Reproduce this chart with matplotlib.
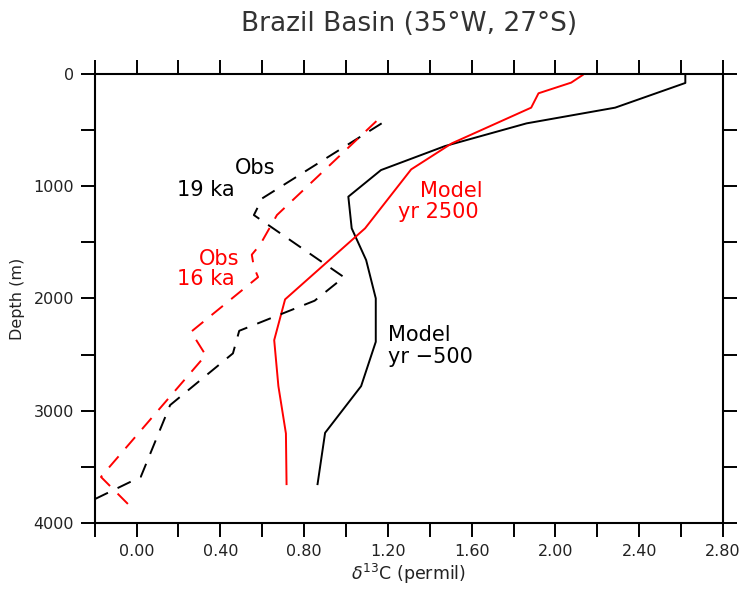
import matplotlib
matplotlib.use("Agg")
import matplotlib.pyplot as plt
import numpy as np

# model profiles (solid)
model_m500_d13c = [2.62, 2.62, 2.285, 1.862, 1.473, 1.167, 1.011, 1.027, 1.096, 1.142, 1.142, 1.072, 0.90, 0.864]
model_m500_depth = [0, 80, 300, 440, 642, 856, 1093, 1375, 1658, 1999, 2386, 2781, 3197, 3654]

model_2500_d13c = [2.13, 2.075, 1.919, 1.884, 1.505, 1.311, 1.091, 0.709, 0.657, 0.677, 0.713, 0.716]
model_2500_depth = [9, 77, 172, 300, 618, 850, 1375, 2008, 2371, 2781, 3203, 3654]

# observations (dashed)
obs_19ka_d13c = [1.17, 0.60, 0.56, 0.99, 0.85, 0.49, 0.46, 0.16, 0.02, -0.20]
obs_19ka_depth = [440, 1108, 1257, 1810, 2020, 2288, 2489, 2950, 3589, 3788]

obs_16ka_d13c = [1.145, 0.67, 0.59, 0.55, 0.56, 0.58, 0.26, 0.33, -0.15, -0.17, -0.02]
obs_16ka_depth = [420, 1257, 1520, 1610, 1720, 1810, 2297, 2505, 3545, 3590, 3871]

x_ticks = np.round(np.arange(-0.2, 2.81, 0.2), 2)
y_ticks = np.arange(0, 4001, 500)

RED = "#ff0000"
BLK = "#000000"
C_TXT = "#222222"

plt.rcParams.update({"font.family": "DejaVu Sans"})

fig = plt.figure(figsize=(7.44, 5.89), dpi=100)
ax = fig.add_axes([0.1273, 0.1121, 0.8445, 0.7623])

ax.plot(model_m500_d13c, model_m500_depth, color=BLK, lw=1.4)
ax.plot(model_2500_d13c, model_2500_depth, color=RED, lw=1.4)
ax.plot(obs_19ka_d13c, obs_19ka_depth, color=BLK, lw=1.4, dashes=(7.5, 5.5))
ax.plot(obs_16ka_d13c, obs_16ka_depth, color=RED, lw=1.4, dashes=(7.5, 5.5))

ax.set_xlim(-0.2, 2.8)
ax.set_ylim(4000, 0)
ax.set_xticks(x_ticks)
ax.set_xticklabels([f"{v:.2f}" if abs(round(v / 0.4) * 0.4 - v) < 1e-6 and v >= 0 else "" for v in x_ticks])
ax.set_yticks(y_ticks)
ax.set_yticklabels([str(v) if v % 1000 == 0 else "" for v in y_ticks])
ax.tick_params(direction="out", length=10, width=1.4, top=True, right=True,
               labelsize=11.5, pad=5, labelcolor=C_TXT)
for s in ax.spines.values():
    s.set_linewidth(1.5)

ax.set_xlabel(r"$\delta^{13}$C (permil)", fontsize=12.5, color=C_TXT, labelpad=2)
ax.set_ylabel("Depth (m)", fontsize=11.5, color=C_TXT, labelpad=6)
ax.set_title("Brazil Basin (35°W, 27°S)", fontsize=19, color="#333333", pad=31)

fs = 15
ax.text(0.471, 838, "Obs", color=BLK, fontsize=fs, va="center", ha="left")
ax.text(0.192, 1034, "19 ka", color=BLK, fontsize=fs, va="center", ha="left")
ax.text(0.298, 1649, "Obs", color=RED, fontsize=fs, va="center", ha="left")
ax.text(0.191, 1827, "16 ka", color=RED, fontsize=fs, va="center", ha="left")
ax.text(1.354, 1040, "Model", color=RED, fontsize=fs, va="center", ha="left")
ax.text(1.250, 1227, "yr 2500", color=RED, fontsize=fs, va="center", ha="left")
ax.text(1.20, 2326, "Model", color=BLK, fontsize=fs, va="center", ha="left")
ax.text(1.20, 2522, "yr \u2212500", color=BLK, fontsize=fs, va="center", ha="left")

fig.savefig("out.png", dpi=100)
